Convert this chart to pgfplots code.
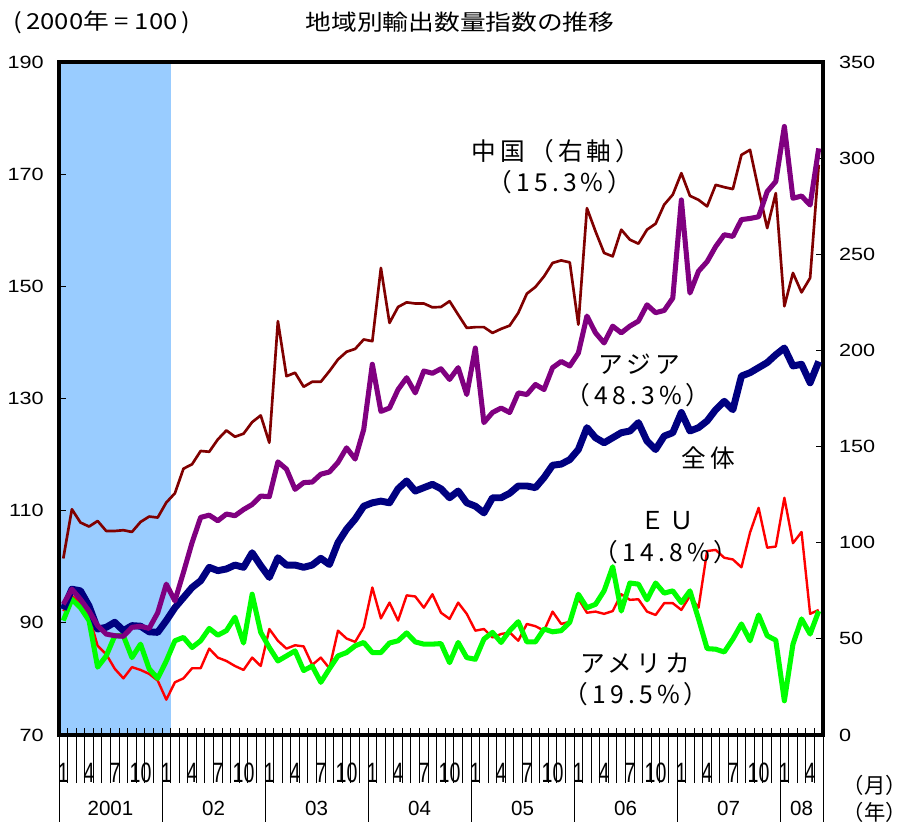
\documentclass[border=0pt]{standalone}
\usepackage{pgfplots}
\usepackage{pgfplotstable}
\pgfplotsset{compat=1.18}
\usepackage{fontspec}
\setmainfont{Liberation Sans}
\newfontfamily\jp{Noto Sans CJK JP}
\newfontfamily\jpls[LetterSpace=17]{Noto Sans CJK JP}
\newfontfamily\jpw[FakeStretch=1.17]{Noto Sans CJK JP}
\newfontfamily\numw[FakeStretch=1.22]{Liberation Sans}
\newfontfamily\numt[FakeStretch=0.70]{Liberation Sans}
\definecolor{cnavy}{HTML}{000080}
\definecolor{cpurple}{HTML}{800080}
\definecolor{cdred}{HTML}{800000}
\definecolor{cred}{HTML}{FF0000}
\definecolor{cgreen}{HTML}{00FF00}
\definecolor{cshade}{HTML}{99CCFF}

\pgfplotstableread{
i total asia china eu us
0 92.4 93.3 91.8 92.1 90.4
1 96.0 96.0 117.4 94.8 94.2
2 95.7 94.2 110.5 93.6 92.7
3 93.0 92.1 108.4 91.2 90.4
4 88.9 89.5 111.3 85.9 82.1
5 89.2 88.0 106.1 84.4 84.1
6 90.1 87.7 106.1 81.8 87.7
7 88.6 87.6 106.5 80.1 87.7
8 89.5 89.2 105.6 82.1 83.8
9 89.4 89.4 110.8 81.6 86.2
10 88.4 89.0 113.6 80.9 81.8
11 88.3 91.8 113.1 79.7 80.1
12 90.4 96.9 120.9 76.3 83.2
13 92.7 93.9 125.7 79.4 86.8
14 94.5 99.0 138.5 80.1 87.4
15 96.3 104.3 140.8 81.9 85.6
16 97.5 108.8 147.7 81.9 86.8
17 99.9 109.2 147.3 85.4 89.0
18 99.3 108.2 153.7 83.8 87.8
19 99.6 109.4 158.4 83.2 88.6
20 100.3 109.1 155.1 82.3 91.0
21 99.9 110.2 156.7 81.6 86.4
22 102.5 111.1 162.7 83.8 95.1
23 100.2 112.6 166.2 82.3 88.3
24 98.1 112.5 152.0 88.9 85.6
25 101.6 118.7 215.2 86.8 83.2
26 100.3 117.4 186.6 85.4 84.1
27 100.3 113.8 188.4 86.0 85.0
28 99.9 115.0 181.1 85.8 81.5
29 100.3 115.1 183.7 82.5 82.3
30 101.5 116.5 183.7 83.8 79.4
31 100.4 116.9 189.2 81.9 81.8
32 104.3 118.6 195.3 88.6 84.1
33 106.7 121.2 199.3 87.2 84.7
34 108.5 119.2 200.8 86.6 85.9
35 110.8 124.5 205.7 89.2 86.5
36 111.4 136.1 204.8 96.3 84.7
37 111.7 127.7 242.9 90.8 84.7
38 111.4 128.3 214.3 93.6 86.4
39 113.9 131.6 222.6 90.4 86.8
40 115.3 133.7 225.0 94.9 88.2
41 113.5 131.0 224.4 94.7 86.6
42 114.1 134.9 224.4 92.7 86.2
43 114.7 134.5 222.4 95.1 86.2
44 113.9 135.3 222.6 91.8 86.3
45 112.3 133.4 225.6 90.7 82.9
46 113.5 135.5 218.6 93.6 86.5
47 111.4 130.7 211.7 91.6 83.8
48 110.8 139.0 212.1 88.6 83.5
49 109.6 125.7 212.1 88.9 87.1
50 112.3 127.5 209.1 87.4 88.3
51 112.3 128.3 211.2 88.0 86.5
52 113.1 127.5 212.9 88.3 88.6
53 114.4 131.0 219.5 86.8 90.2
54 114.4 130.7 229.5 89.8 86.6
55 114.1 132.5 233.0 89.4 86.6
56 115.9 131.6 238.5 88.6 88.9
57 118.1 135.5 245.5 92.0 88.4
58 118.3 136.6 246.8 89.8 88.6
59 119.1 135.8 245.8 90.2 90.1
60 120.9 138.1 213.4 94.3 95.1
61 124.8 144.7 274.0 91.8 92.7
62 123.0 141.7 261.9 92.0 93.3
63 122.1 139.9 250.7 91.6 95.7
64 123.0 142.9 248.9 92.1 100.0
65 123.9 141.7 262.8 95.1 92.1
66 124.2 142.9 257.6 94.1 97.1
67 125.7 143.8 255.5 94.2 96.9
68 122.4 146.7 262.8 92.0 94.1
69 120.9 145.3 265.9 91.4 97.1
70 123.3 145.7 275.8 93.5 95.3
71 123.9 147.9 281.0 93.5 95.7
72 127.5 165.4 292.2 92.3 93.6
73 124.2 148.8 280.4 94.8 95.7
74 124.8 152.7 278.3 92.7 90.7
75 126.0 154.4 274.9 102.8 85.4
76 128.0 157.1 286.1 103.0 85.3
77 129.5 159.2 284.9 101.6 84.8
78 128.0 158.9 283.9 101.3 87.1
79 134.0 161.9 301.7 99.9 89.8
80 134.6 162.1 304.3 106.1 86.8
81 135.5 162.4 283.5 110.5 91.4
82 136.4 166.9 263.6 103.4 87.7
83 137.8 168.7 281.8 103.6 86.9
84 139.0 178.5 223.0 112.3 76.1
85 135.8 165.7 240.3 104.2 86.2
86 136.1 166.1 230.2 106.2 90.7
87 132.8 164.5 237.7 91.6 88.0
88 136.6 174.6 296.5 92.3 92.1
}\datatable

\newcommand\fTick{\numw\fontsize{13.3}{14}\selectfont}
\newcommand\fLab{\jpls\fontsize{18.5}{20}\selectfont}

\pgfplotsset{
  base/.style={scale only axis, width=573pt, height=504.75pt,
    at={(44.25pt,69pt)}, anchor=south west, xmin=-0.5, xmax=88.5,
    axis line style={line width=3pt},
    every tick/.style={black, line width=0.75pt},
    /pgf/number format/assume math mode=true,
    every axis plot/.append style={line join=round}},
}

\begin{document}
\begin{tikzpicture}
\useasboundingbox (0,0) rectangle (684.75pt,620.25pt);

% right axis: China and the shaded period
\begin{axis}[base, ymin=0, ymax=350, axis y line*=right, axis x line=none,
  ytick={0,50,...,350}, tick align=inside, major tick length=5pt,
  yticklabel style={font=\fTick, xshift=8.5pt}]
\addplot[fill=cshade, draw=none] coordinates {(-0.5,350) (12.5,350)} \closedcycle;
\addplot[cdred, line width=2pt] table[x=i, y=china] {\datatable};
\end{axis}

% left axis: other series
\begin{axis}[base, ymin=70, ymax=190, ytick={70,90,...,190},
  xtick={-0.5,0.5,...,88.5}, xticklabels={}, tick align=inside, major tick length=5pt,
  xtick pos=bottom, ytick pos=left,
  yticklabel style={font=\fTick, xshift=-8pt}]
\addplot[cred, line width=1.8pt] table[x=i, y=eu] {\datatable};
\addplot[cgreen, line width=3.8pt] table[x=i, y=us] {\datatable};
\addplot[cnavy, line width=5.2pt] table[x=i, y=total] {\datatable};
\addplot[cpurple, line width=3.8pt] table[x=i, y=asia] {\datatable};
\end{axis}

% decorations: month and year ticks
\begin{axis}[base, ymin=0, ymax=1, axis x line*=bottom, axis y line=none,
  tick align=outside,
  xtick={-0.5,11.5,23.5,35.5,47.5,59.5,71.5,83.5,88.5}, xticklabels={},
  major tick length=65pt,
  minor xtick={-0.5,0.5,...,88.5}, minor tick length=36pt,
  extra x ticks={0,3,...,87},
  extra x tick labels={1,4,7,10,1,4,7,10,1,4,7,10,1,4,7,10,1,4,7,10,1,4,7,10,1,4,7,10,1,4},
  extra x tick style={major tick length=0pt, tick style={draw=none},
    xticklabel style={font=\numt\fontsize{21}{22}\selectfont, anchor=center, yshift=-28.5pt}},
  clip=false]
\foreach \xx/\yy in {5.5/2001,17.5/02,29.5/03,41.5/04,53.5/05,65.5/06,77.5/07,86/08}{
  \edef\tmp{\noexpand\node[font=\noexpand\fontsize{15.4}{16}\noexpand\selectfont] at (axis cs:\xx,0) [yshift=-54.75pt] {\yy};}\tmp
}
\end{axis}

% texts
\node[font=\jpw\fontsize{16.5}{18}\selectfont] at (345pt,603.75pt) {地域別輸出数量指数の推移};
\node[font=\jpw\fontsize{16.5}{18}\selectfont] at (76.5pt,603.75pt) {(\,2000年 = 100\,)};
\node[font=\fLab] at (417pt,507pt) {中国（右軸）};
\node[font=\fLab] at (420pt,483.75pt) {（15.3\%）};
\node[font=\fLab] at (479.25pt,347.25pt) {アジア};
\node[font=\fLab] at (478.5pt,324pt) {（48.3\%）};
\node[font=\fLab] at (531pt,276.75pt) {全体};
\node[font=\fLab] at (500.25pt,229.5pt) {ＥＵ};
\node[font=\fLab] at (499.5pt,206.25pt) {（14.8\%）};
\node[font=\fLab] at (476.25pt,123pt) {アメリカ};
\node[font=\fLab] at (477pt,99.75pt) {（19.5\%）};
\node[font=\jp\fontsize{16}{18}\selectfont, inner sep=0pt] at (656pt,31.5pt) {（月）};
\node[font=\jp\fontsize{16}{18}\selectfont, inner sep=0pt] at (656pt,11.25pt) {（年）};
\end{tikzpicture}
\end{document}
